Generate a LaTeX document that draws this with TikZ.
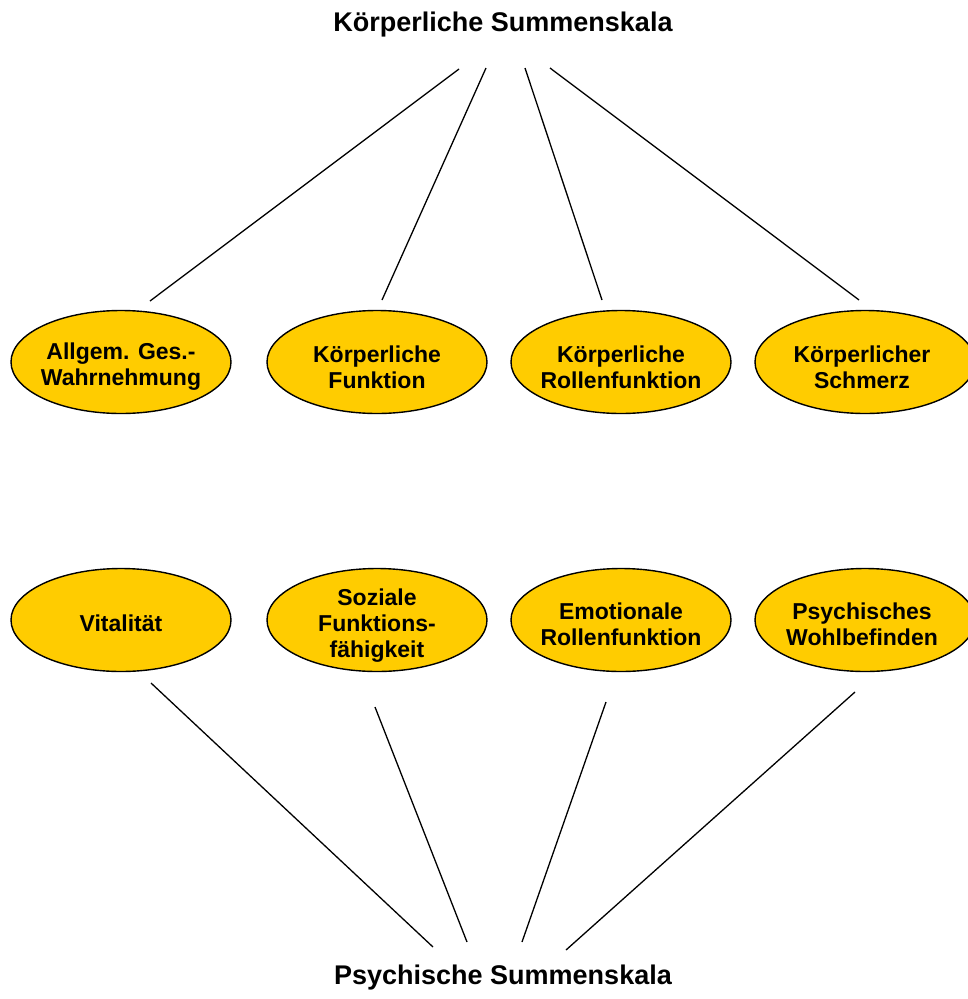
\documentclass[tikz,border=0pt]{standalone}
\usepackage{fontspec}
\setmainfont{Liberation Sans}
\usetikzlibrary{shapes.geometric}
\definecolor{scalefill}{HTML}{FFCC00}
\tikzset{
  scalebox/.style={ellipse, draw=black, line width=1.4pt, fill=scalefill, minimum width=220pt, minimum height=103pt, inner sep=0pt},
  scaletext/.style={align=center, inner sep=0pt, font=\fontsize{23}{26}\selectfont\bfseries},
  titlelabel/.style={font=\fontsize{27}{32}\selectfont\bfseries, inner sep=0pt},
  link/.style={draw=black, line width=1.3pt}
}
\begin{document}
\begin{tikzpicture}[x=1pt,y=-1pt]
\useasboundingbox (0,0) rectangle (967,999);
\node[titlelabel] (ks) at (503,25) {Körperliche Summenskala};
\node[titlelabel] (ps) at (503,978) {Psychische Summenskala};

\node[scalebox] (a1) at (121,362) {};
\node[scalebox] (a2) at (377,362) {};
\node[scalebox] (a3) at (621,362) {};
\node[scalebox] (a4) at (865,362) {};
\node[scaletext] (a1t) at (121,367) {Allgem. Ges.-\\Wahrnehmung};
\node[scaletext] (a2t) at (377,367) {Körperliche\\Funktion};
\node[scaletext] (a3t) at (621,367) {Körperliche\\Rollenfunktion};
\node[scaletext] (a4t) at (862,367) {Körperlicher\\Schmerz};

\node[scalebox] (b1) at (121,620) {};
\node[scalebox] (b2) at (377,620) {};
\node[scalebox] (b3) at (621,620) {};
\node[scalebox] (b4) at (865,620) {};
\node[scaletext] (b1t) at (121,623) {Vitalität};
\node[scaletext] (b2t) at (377,626) {Soziale\\Funktions-\\fähigkeit};
\node[scaletext] (b3t) at (621,624) {Emotionale\\Rollenfunktion};
\node[scaletext] (b4t) at (862,624) {Psychisches\\Wohlbefinden};

\coordinate (kt1) at (459,69);
\coordinate (kt2) at (486,68);
\coordinate (kt3) at (525,68);
\coordinate (kt4) at (550,68);
\coordinate (ka1) at (150,301);
\coordinate (ka2) at (382,300);
\coordinate (ka3) at (602,300);
\coordinate (ka4) at (859,300);

\coordinate (pb1) at (151,683);
\coordinate (pb2) at (375,707);
\coordinate (pb3) at (606,702);
\coordinate (pb4) at (855,692);
\coordinate (pt1) at (433,947);
\coordinate (pt2) at (467,942);
\coordinate (pt3) at (522,942);
\coordinate (pt4) at (566,950);

\draw[link] (kt1) -- (ka1);
\draw[link] (kt2) -- (ka2);
\draw[link] (kt3) -- (ka3);
\draw[link] (kt4) -- (ka4);
\draw[link] (pb1) -- (pt1);
\draw[link] (pb2) -- (pt2);
\draw[link] (pb3) -- (pt3);
\draw[link] (pb4) -- (pt4);
\end{tikzpicture}
\end{document}
